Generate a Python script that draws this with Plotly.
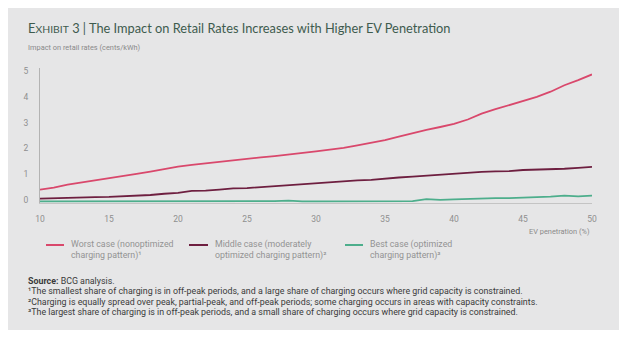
import plotly.graph_objects as go

# EV penetration (%) on the x axis
ev_penetration = list(range(10, 51))

# Impact on retail rates (cents/kWh) for each charging scenario
worst_case = [0.40, 0.48, 0.59, 0.67, 0.76, 0.83, 0.91, 1.01, 1.10, 1.20,
              1.29, 1.36, 1.42, 1.48, 1.55, 1.60, 1.65, 1.70, 1.76, 1.80,
              1.88, 1.95, 2.02, 2.12, 2.22, 2.32, 2.46, 2.60, 2.72, 2.83,
              2.95, 3.12, 3.35, 3.52, 3.68, 3.82, 4.00, 4.20, 4.45, 4.65,
              4.87]
middle_case = [0.05, 0.07, 0.08, 0.09, 0.11, 0.12, 0.14, 0.16, 0.19, 0.24,
               0.27, 0.35, 0.36, 0.40, 0.45, 0.46, 0.50, 0.54, 0.58, 0.62,
               0.66, 0.70, 0.73, 0.76, 0.78, 0.83, 0.87, 0.90, 0.94, 0.97,
               1.02, 1.05, 1.09, 1.11, 1.12, 1.16, 1.17, 1.19, 1.21, 1.24,
               1.28]
best_case = [-0.06, -0.06, -0.05, -0.05, -0.05, -0.07, -0.06, -0.06, -0.06, -0.06,
             -0.06, -0.06, -0.06, -0.06, -0.06, -0.06, -0.06, -0.05, -0.03, -0.06,
             -0.06, -0.06, -0.06, -0.06, -0.06, -0.06, -0.06, -0.05, 0.03, 0.00,
             0.02, 0.04, 0.06, 0.07, 0.07, 0.09, 0.10, 0.13, 0.17, 0.14,
             0.17]

series_names = [
    "Worst case (nonoptimized<br>charging pattern)¹",
    "Middle case (moderately<br>optimized charging pattern)²",
    "Best case (optimized<br>charging pattern)³",
]
series_colors = ["#d9486c", "#6e1f40", "#4dae8c"]

x_ticks = [10, 15, 20, 25, 30, 35, 40, 45, 50]
y_ticks = [0, 1, 2, 3, 4, 5]

footnotes = [
    "<b>Source:</b> BCG analysis.",
    "¹The smallest share of charging is in off-peak periods, and a large share of charging occurs where grid capacity is constrained.",
    "²Charging is equally spread over peak, partial-peak, and off-peak periods; some charging occurs in areas with capacity constraints.",
    "³The largest share of charging is in off-peak periods, and a small share of charging occurs where grid capacity is constrained.",
]

W, H = 637, 346
L, R, T, B = 40, 45, 68, 143
PW, PH = W - L - R, H - T - B


def px_x(px):
    return (px - L) / PW


def px_y(py):
    return (H - B - py) / PH


fig = go.Figure()
for vals, name, color in zip([worst_case, middle_case, best_case], series_names, series_colors):
    fig.add_trace(go.Scatter(
        x=ev_penetration, y=vals, mode="lines", name=name,
        line=dict(color=color, width=1.8), showlegend=False,
    ))

shapes = [
    # grey exhibit panel
    dict(type="rect", xref="paper", yref="paper", layer="below",
         x0=px_x(8), x1=px_x(619), y0=px_y(330), y1=px_y(8),
         fillcolor="#e6e6e7", line=dict(width=0)),
]
annotations = []

# legend: short line swatch + two-line label
legend_items = [(46, 64, 69), (189, 208, 213), (345, 363, 368)]
for (lx0, lx1, tx), name, color in zip(legend_items, series_names, series_colors):
    shapes.append(dict(type="line", xref="paper", yref="paper",
                       x0=px_x(lx0), x1=px_x(lx1), y0=px_y(245), y1=px_y(245),
                       line=dict(color=color, width=2)))
    annotations.append(dict(xref="paper", yref="paper", x=px_x(tx), y=px_y(236.5),
                            xanchor="left", yanchor="top", align="left",
                            showarrow=False, text=name,
                            font=dict(family="Roboto", size=8.8, color="#939393")))

# title and axis captions
annotations.append(dict(
    xref="paper", yref="paper", x=px_x(26), y=px_y(28), xanchor="left", yanchor="middle",
    showarrow=False,
    text='<span style="font-size:13px">E</span><span style="font-size:10.4px">XHIBIT</span> 3 | '
         'The Impact on Retail Rates Increases with Higher EV Penetration',
    font=dict(family="Lato", size=12.8, color="#3e5b4e")))
annotations.append(dict(
    xref="paper", yref="paper", x=px_x(26), y=px_y(47), xanchor="left", yanchor="middle",
    showarrow=False, text="Impact on retail rates (cents/kWh)",
    font=dict(family="Roboto", size=7.4, color="#8a8a8a")))
annotations.append(dict(
    xref="paper", yref="paper", x=px_x(592), y=px_y(231), xanchor="right", yanchor="middle",
    showarrow=False, text="EV penetration (%)",
    font=dict(family="Roboto", size=7.4, color="#8a8a8a")))

# source and footnotes
for i, line in enumerate(footnotes):
    annotations.append(dict(
        xref="paper", yref="paper", x=px_x(26), y=px_y(281 + 10.3 * i),
        xanchor="left", yanchor="middle", showarrow=False, text=line,
        font=dict(family="Roboto", size=8.85, color="#3a3a3a")))

fig.update_layout(
    width=W, height=H,
    margin=dict(l=L, r=R, t=T, b=B, pad=0),
    paper_bgcolor="white",
    plot_bgcolor="rgba(0,0,0,0)",
    shapes=shapes,
    annotations=annotations,
    xaxis=dict(range=[10, 50], tickvals=x_ticks, showgrid=False, zeroline=False,
               showline=True, linecolor="#c4c4c4", linewidth=1,
               ticks="", ticklabelstandoff=8,
               tickfont=dict(family="Roboto", size=8.5, color="#8f8f8f")),
    yaxis=dict(range=[-0.12, 5.12], tickvals=y_ticks, showgrid=False, zeroline=False,
               showline=True, linecolor="#b3b3b3", linewidth=1,
               ticks="", ticklabelstandoff=9,
               tickfont=dict(family="Roboto", size=8.5, color="#8f8f8f")),
)

fig.write_html("out.html")
